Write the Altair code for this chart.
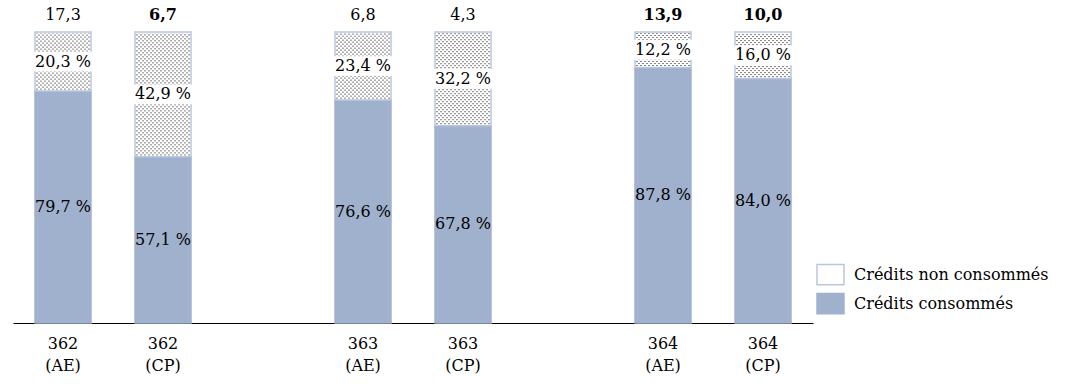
import altair as alt
import pandas as pd

# ---- data ----
programmes = ["362", "362", "363", "363", "364", "364"]
types_credit = ["AE", "CP", "AE", "CP", "AE", "CP"]
consommes = [79.7, 57.1, 76.6, 67.8, 87.8, 84.0]
non_consommes = [20.3, 42.9, 23.4, 32.2, 12.2, 16.0]
totaux = [17.3, 6.7, 6.8, 4.3, 13.9, 10.0]
gras = [False, True, False, False, True, True]
serie_nc = "Crédits non consommés"
serie_c = "Crédits consommés"

cats = [f"{p} ({t})" for p, t in zip(programmes, types_credit)]
domain = cats[:2] + ["sep1"] + cats[2:4] + ["sep2"] + cats[4:]


def fr(v):
    return f"{v:.1f}".replace(".", ",")


bars_rows = []
for c, v, nv in zip(cats, consommes, non_consommes):
    bars_rows.append({"cat": c, "kind": serie_c, "y0": 0, "y1": v})
    bars_rows.append({"cat": c, "kind": serie_nc, "y0": v, "y1": v + nv})
bars_df = pd.DataFrame(bars_rows)

lab_df = pd.DataFrame({
    "cat": cats,
    "cons": consommes,
    "ncons": non_consommes,
    "total": totaux,
    "bold": gras,
    "lab_c": [fr(v) + " %" for v in consommes],
    "lab_n": [fr(v) + " %" for v in non_consommes],
    "lab_t": [fr(v) for v in totaux],
})

FONT = "DejaVu Serif"
FS = 16
C_CONS = "#A0B1CD"
C_EDGE = "#B8C6DE"

xenc = alt.X(
    "cat:N",
    scale=alt.Scale(domain=domain, paddingInner=0.44, paddingOuter=0.22),
    sort=domain,
    axis=alt.Axis(
        title=None, ticks=False, labelAngle=0,
        labelExpr="indexof(datum.label, 'sep') >= 0 ? '' : split(datum.label, ' ')",
        labelFont=FONT, labelFontSize=FS, labelColor="black",
        labelLineHeight=22, labelPadding=12, labelBaseline="top",
        domainColor="black", domainWidth=1,
    ),
)
yscale = alt.Scale(domain=[0, 100], nice=False, zero=True)

bars = alt.Chart(bars_df).mark_bar(strokeWidth=1.5).encode(
    x=xenc,
    y=alt.Y("y0:Q", scale=yscale, axis=None),
    y2="y1:Q",
    fill=alt.Fill(
        "kind:N",
        scale=alt.Scale(domain=[serie_nc, serie_c], range=["white", C_CONS]),
        legend=alt.Legend(
            title=None, orient="none", legendX=803, legendY=228,
            symbolType="M-1,-0.75L1,-0.75L1,0.75L-1,0.75Z", symbolSize=729,
            symbolStrokeColor=C_EDGE, symbolStrokeWidth=1.5, symbolOpacity=1,
            labelFont=FONT, labelFontSize=FS, labelColor="black",
            labelOffset=9, rowPadding=1, padding=0, labelLimit=400,
        ),
    ),
    stroke=alt.Stroke(
        "kind:N",
        scale=alt.Scale(domain=[serie_nc, serie_c], range=[C_EDGE, C_CONS]),
        legend=None,
    ),
)

# dotted texture of the "non consommés" segment (staggered dot grid)
dots = alt.Chart(lab_df).transform_calculate(
    cols="sequence(0, 27)"
).transform_flatten(["cols"], as_=["col"]).transform_calculate(
    ya="datum.cons + 0.5 + (datum.col % 2) * 0.687",
    yb="99.6",
).mark_rule(color="black", strokeDash=[1, 3], strokeWidth=1).encode(
    x=alt.X("cat:N"),
    xOffset=alt.XOffset("col:O", scale=alt.Scale(paddingInner=0, paddingOuter=0.5)),
    y=alt.Y("ya:Q", scale=yscale, axis=None),
    y2="yb:Q",
)

boxes = alt.Chart(lab_df).transform_calculate(
    m="(datum.cons + 100) / 2"
).transform_calculate(
    b0="datum.m - 3.4", b1="datum.m + 3.4"
).mark_bar(color="white", width=59).encode(
    x=alt.X("cat:N"),
    y=alt.Y("b0:Q", scale=yscale, axis=None),
    y2="b1:Q",
)

txt_kw = dict(font=FONT, fontSize=FS, color="black", baseline="middle", align="center")

t_cons = alt.Chart(lab_df).transform_calculate(
    m="datum.cons / 2"
).mark_text(**txt_kw).encode(
    x=alt.X("cat:N"), y=alt.Y("m:Q", scale=yscale, axis=None), text="lab_c:N"
)

t_nc = alt.Chart(lab_df).transform_calculate(
    m="(datum.cons + 100) / 2"
).mark_text(**txt_kw).encode(
    x=alt.X("cat:N"), y=alt.Y("m:Q", scale=yscale, axis=None), text="lab_n:N"
)

t_tot = alt.Chart(lab_df).transform_filter("!datum.bold").transform_calculate(
    top="100"
).mark_text(dy=-17, **txt_kw).encode(
    x=alt.X("cat:N"), y=alt.Y("top:Q", scale=yscale, axis=None), text="lab_t:N"
)

t_tot_b = alt.Chart(lab_df).transform_filter("datum.bold").transform_calculate(
    top="100"
).mark_text(dy=-17, fontWeight="bold", **txt_kw).encode(
    x=alt.X("cat:N"), y=alt.Y("top:Q", scale=yscale, axis=None), text="lab_t:N"
)

chart = alt.layer(bars, dots, boxes, t_cons, t_nc, t_tot, t_tot_b).properties(
    width=800, height=291,
    autosize=alt.AutoSizeParams(type="none"),
    padding={"left": 13, "top": 32, "right": 253, "bottom": 64},
    background="white",
).configure_view(stroke=None)

chart.save("out.html", embed_options={"renderer": "svg", "actions": False})
